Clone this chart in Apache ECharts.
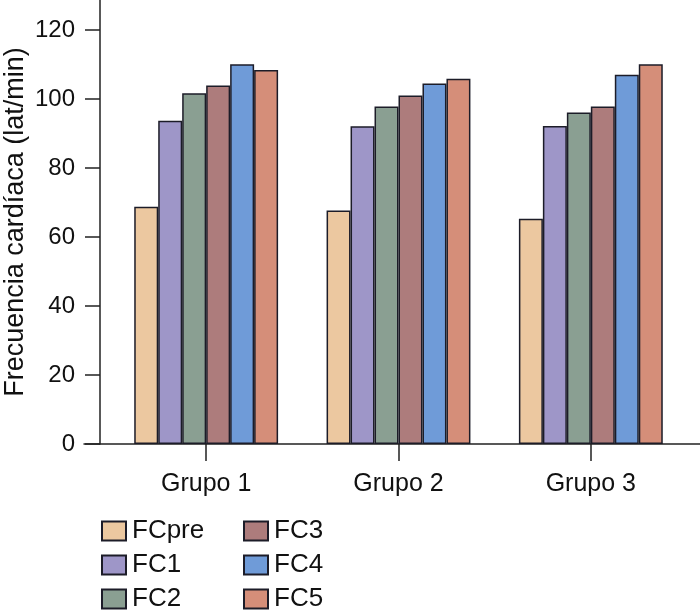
<!DOCTYPE html>
<html>
<head>
<meta charset="utf-8">
<script src="https://cdn.jsdelivr.net/npm/echarts@6/dist/echarts.min.js"></script>
<style>html,body{margin:0;padding:0;background:#fff}#c{width:700px;height:614px}</style>
</head>
<body>
<div id="c"></div>
<script>
const categories = ['Grupo 1', 'Grupo 2', 'Grupo 3'];
const seriesNames = ['FCpre', 'FC1', 'FC2', 'FC3', 'FC4', 'FC5'];
const FCpre = [68.8, 67.7, 65.3];
const FC1 = [93.7, 92.1, 92.2];
const FC2 = [101.7, 97.8, 96.1];
const FC3 = [103.9, 101.0, 97.8];
const FC4 = [110.1, 104.5, 107.0];
const FC5 = [108.4, 105.9, 110.1];
const yTicks = [0, 20, 40, 60, 80, 100, 120];
const colors = ['#ecc8a0', '#9e96c8', '#8a9f92', '#ad7c7c', '#6f9bd8', '#d58e79'];

const values = [FCpre, FC1, FC2, FC3, FC4, FC5];
const font = 'Liberation Sans, Arial, sans-serif';
const lineColor = '#222';

const legendBase = {
  orient: 'vertical', top: 518, height: 96, padding: 0,
  itemWidth: 24, itemHeight: 19, itemGap: 8, icon: 'rect',
  textStyle: { fontSize: 26, lineHeight: 26, color: '#111', fontFamily: font, padding: [0, 0, 0, 1] }
};

const chart = echarts.init(document.getElementById('c'));
chart.setOption({
  animation: false,
  textStyle: { fontFamily: font },
  grid: [
    { left: 110, right: 13, top: 0, bottom: 170, containLabel: false, outerBoundsMode: 'none' },
    { left: 84, right: 0, top: 0, bottom: 170, containLabel: false, outerBoundsMode: 'none' }
  ],
  legend: [
    Object.assign({}, legendBase, { data: seriesNames.slice(0, 3), left: 101 }),
    Object.assign({}, legendBase, { data: seriesNames.slice(3), left: 243 })
  ],
  xAxis: [
    {
      type: 'category', data: categories, gridIndex: 0,
      axisLine: { show: false },
      axisTick: { show: true, alignWithLabel: true, length: 17, lineStyle: { color: lineColor, width: 1.5 } },
      axisLabel: { fontSize: 25, color: '#111', margin: 28, fontFamily: font }
    },
    {
      type: 'value', gridIndex: 1, min: 0, max: 1,
      axisLine: { show: true, onZero: false, lineStyle: { color: lineColor, width: 1.5 } },
      axisTick: { show: false }, axisLabel: { show: false }, splitLine: { show: false }
    }
  ],
  yAxis: [
    {
      type: 'value', gridIndex: 0, min: 0, max: 128.7, interval: 20, offset: 10,
      name: 'Frecuencia cardíaca (lat/min)', nameLocation: 'middle', nameGap: 71,
      nameMoveOverlap: false,
      nameTextStyle: { fontSize: 27, color: '#111', fontFamily: font },
      axisLine: { show: true, lineStyle: { color: lineColor, width: 1.5 } },
      axisTick: { show: true, length: 15, lineStyle: { color: lineColor, width: 1.5 } },
      axisLabel: {
        fontSize: 24, color: '#111', margin: 25, fontFamily: font, showMaxLabel: false,
        formatter: v => (yTicks.indexOf(v) >= 0 ? String(v) : '')
      },
      splitLine: { show: false }
    },
    {
      type: 'value', gridIndex: 1, min: 0, max: 1, show: false
    }
  ],
  series: seriesNames.map((n, i) => ({
    name: n, type: 'bar', xAxisIndex: 0, yAxisIndex: 0,
    data: values[i],
    barGap: '0%', barCategoryGap: '25.2%',
    itemStyle: { color: colors[i], borderColor: '#1c1c28', borderWidth: 1.5 }
  }))
});
</script>
</body>
</html>
